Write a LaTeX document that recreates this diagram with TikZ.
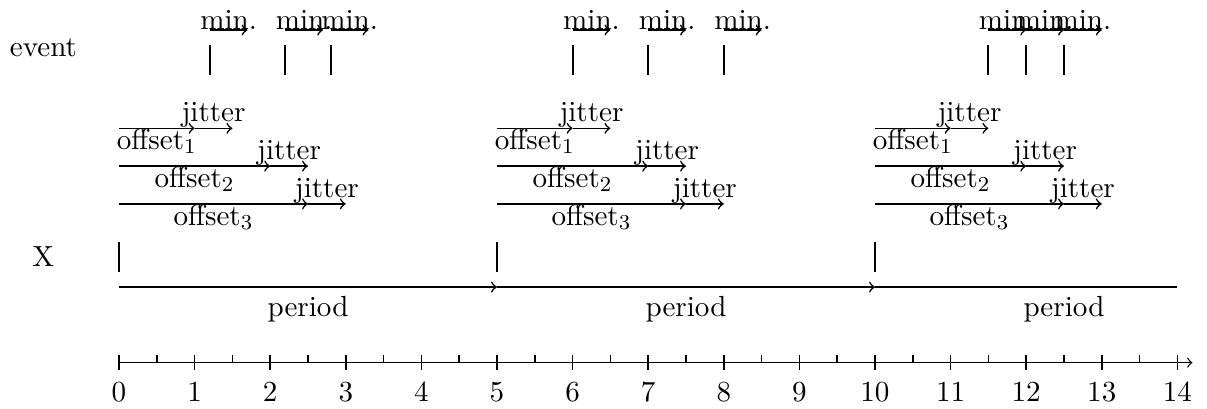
\documentclass[tikz,border=0pt]{standalone}
\begin{document}
\begin{tikzpicture}[
  font=\fontsize{10.95}{13.6}\selectfont,
  arr/.style={->,semithick},
  tk/.style={thick},
  axtk/.style={semithick},
  lab/.style={inner sep=0pt}]
\useasboundingbox (-1.574,-0.6) rectangle (14.392,4.797);
\node (event) at (-1,4.17) {event};
\node (X) at (-1,1.4) {X};
% offsets and jitter
\foreach \b in {0,5,10} {
  \coordinate (xa) at (\b,1.2);
  \coordinate (xb) at (\b,1.6);
  \draw[tk] (xa) -- (xb);
  \foreach \o/\y/\k in {1/3.1/1, 2/2.6/2, 2.5/2.1/3} {
    \coordinate (s) at (\b,\y);
    \coordinate (m) at (\b+\o,\y);
    \coordinate (e) at (\b+\o+0.5,\y);
    \draw[arr] (s) -- node[lab,below] {offset$_\k$} (m);
    \draw[arr] (m) -- node[lab,above] {jitter} (e);
  }
}
% events
\foreach \e in {1.2,2.2,2.8,6,7,8,11.5,12,12.5} {
  \coordinate (ea) at (\e,3.8);
  \coordinate (eb) at (\e,4.2);
  \draw[tk] (ea) -- (eb);
  \coordinate (ms) at (\e,4.4);
  \coordinate (me) at (\e+0.5,4.4);
  \draw[arr] (ms) -- node[lab,above] {min.} (me);
}
% periods
\coordinate (p0) at (0,1);
\coordinate (p5) at (5,1);
\coordinate (p10) at (10,1);
\coordinate (p14) at (14,1);
\draw[arr] (p0) -- node[below] {period} (p5);
\draw[arr] (p5) -- node[below] {period} (p10);
\draw[semithick] (p10) -- (p14);
\node[below] (per3) at (12.5,1) {period};
% axis
\coordinate (a0) at (0,0);
\coordinate (a1) at (14.2,0);
\draw[->,line width=0.5pt] (a0) -- (a1);
\foreach \i in {0,...,14} {
  \draw[axtk] (\i,-0.1) -- (\i,0.1);
  \node[below] (n\i) at (\i,-0.13) {\i};
}
\foreach \i in {0.5,1.5,...,13.5} {
  \draw[axtk] (\i,0) -- (\i,0.1);
}
\end{tikzpicture}
\end{document}
